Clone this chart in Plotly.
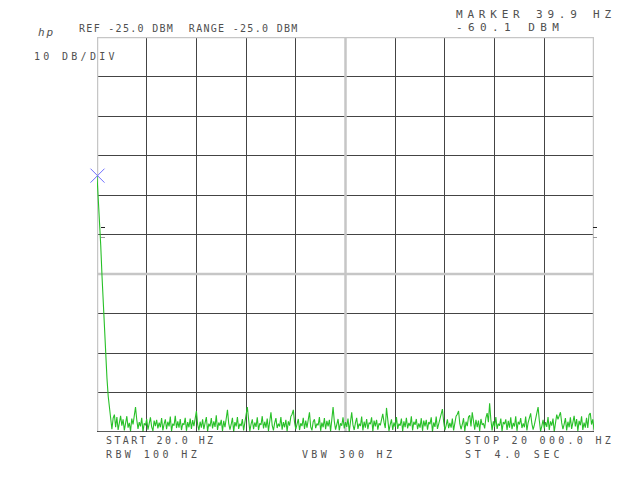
import numpy as np
import plotly.graph_objects as go

# ---- data ----
start_hz = 20.0
stop_hz = 20000.0
ref_dbm = -25.0
db_per_div = 10.0
n_div = 10

marker_hz = 39.9
marker_dbm = -60.1

level_dbm = [
    -60.1, -65.0, -71.3, -77.7, -85.3, -92.8, -99.2, -105.5, -111.3, -115.9, -119.4,
    -122.0, -124.3, -121.5, -120.6, -123.8, -121.2, -124.5, -122.6, -120.9, -123.4,
    -121.8, -124.6, -122.2, -121.0, -123.9, -122.7, -124.8, -121.6, -123.1, -120.8,
    -118.7, -121.9, -124.2, -122.5, -123.6, -121.4, -124.9, -122.8, -123.3, -121.7,
    -124.4, -122.9, -121.3, -123.7, -124.7, -122.1, -123.5, -121.9, -124.1, -122.6,
    -123.8, -121.5, -124.6, -123.0, -121.8, -124.3, -122.4, -123.6, -121.1, -124.8,
    -122.9, -123.4, -120.9, -124.0, -122.3, -123.9, -121.7, -124.5, -122.8, -123.2,
    -121.4, -124.7, -122.5, -123.8, -121.6, -124.2, -122.0, -123.5, -121.3, -119.7,
    -123.1, -124.6, -122.4, -123.9, -121.8, -124.3, -122.7, -121.2, -124.8, -122.9,
    -123.6, -121.5, -124.1, -122.3, -123.7, -120.8, -124.5, -122.6, -123.4, -121.9,
    -124.7, -122.2, -123.8, -121.6, -119.4, -122.8, -124.4, -123.1, -121.4, -124.9,
    -122.5, -123.6, -121.2, -124.2, -122.9, -123.5, -121.7, -124.6, -122.1, -120.6,
    -118.7, -122.4, -124.8, -123.0, -121.8, -124.3, -122.6, -123.7, -121.3, -124.5,
    -122.8, -123.2, -121.0, -124.1, -122.4, -123.9, -121.6, -124.7, -122.2, -120.0,
    -123.3, -124.6, -122.7, -121.5, -124.0, -122.9, -123.6, -121.2, -124.4, -122.5,
    -123.8, -121.9, -124.8, -122.3, -123.4, -121.1, -120.5, -119.4, -122.6, -124.3,
    -123.0, -121.7, -124.5, -122.8, -123.5, -121.4, -124.2, -122.1, -123.9, -121.6,
    -120.0, -123.7, -124.6, -122.4, -121.8, -124.0, -122.9, -123.3, -121.2, -124.7,
    -122.6, -123.8, -121.5, -124.3, -122.2, -123.6, -121.9, -124.8, -121.0, -118.7,
    -122.3, -124.4, -123.1, -121.7, -124.6, -122.8, -123.4, -121.3, -124.1, -122.5,
    -123.7, -121.6, -124.9, -121.8, -120.0, -123.2, -124.5, -122.7, -121.4, -124.2,
    -122.9, -123.5, -121.1, -124.6, -122.4, -123.9, -121.7, -124.3, -122.6, -123.0,
    -121.3, -124.8, -122.1, -123.6, -121.9, -124.4, -122.8, -123.3, -121.5, -120.4,
    -122.5, -124.0, -118.9, -122.2, -124.7, -123.1, -121.8, -124.5, -122.6, -123.7,
    -121.2, -124.2, -122.9, -123.4, -121.6, -124.8, -122.3, -123.8, -121.4, -124.1,
    -122.7, -123.5, -121.0, -124.6, -122.4, -123.2, -121.7, -124.3, -122.8, -123.9,
    -121.5, -124.7, -122.1, -123.6, -121.9, -124.4, -122.5, -123.0, -121.3, -124.9,
    -122.6, -123.7, -121.1, -124.2, -122.8, -121.4, -120.6, -119.2, -122.4, -124.5,
    -123.3, -121.8, -124.0, -122.7, -123.9, -121.6, -124.6, -122.2, -121.0, -120.5,
    -119.7, -122.9, -124.3, -123.1, -121.5, -124.8, -122.4, -123.5, -121.2, -120.8,
    -123.6, -120.0, -122.6, -124.4, -121.9, -123.8, -122.1, -124.7, -121.7, -123.2,
    -122.8, -124.1, -121.4, -120.2, -122.5, -117.7, -121.9, -124.6, -122.3, -123.7,
    -121.2, -124.2, -122.9, -123.4, -121.6, -124.8, -122.5, -123.0, -121.8, -124.5,
    -122.2, -123.9, -121.3, -124.3, -122.7, -123.6, -121.0, -124.7, -122.4, -123.1,
    -121.5, -124.0, -122.8, -123.8, -121.1, -124.6, -122.6, -121.4, -120.3, -122.9,
    -124.4, -123.2, -121.7, -120.4, -118.7, -122.1, -124.8, -123.5, -121.9, -124.1,
    -122.5, -123.7, -121.2, -124.5, -122.3, -123.4, -121.6, -124.9, -122.0, -120.6,
    -121.8, -120.8, -120.0, -122.7, -124.3, -123.0, -121.5, -124.6, -122.4, -123.8,
    -121.3, -124.2, -122.9, -120.9, -123.6, -121.7, -124.7, -122.2, -123.3, -121.0,
    -124.5, -122.6, -123.9, -121.4, -124.0, -120.7, -120.2, -123.1, -121.8, -124.4,
]

freq_hz = np.linspace(start_hz, stop_hz, len(level_dbm))

header_left = "REF -25.0 DBM  RANGE -25.0 DBM"
scale_text = "10 DB/DIV"
marker_line1 = "MARKER 39.9 HZ"
marker_line2 = "-60.1 DBM"
start_text = "START 20.0 HZ"
stop_text = "STOP 20 000.0 HZ"
rbw_text = "RBW 100 HZ"
vbw_text = "VBW 300 HZ"
st_text = "ST 4.0 SEC"

# ---- layout geometry (pixels) ----
W, H = 640, 480
L, R, T, B = 97, 594, 37, 432
bottom_dbm = ref_dbm - db_per_div * n_div


def px(x):
    return (x - L) / (R - L)


def py(y):
    return (B - y) / (B - T)


fig = go.Figure()
fig.add_trace(go.Scatter(
    x=freq_hz, y=level_dbm, mode="lines",
    line=dict(color="#28c028", width=1.1),
    hoverinfo="skip", showlegend=False,
))
fig.add_trace(go.Scatter(
    x=[marker_hz], y=[marker_dbm], mode="markers", cliponaxis=False,
    marker=dict(symbol="x-thin-open", size=14, color="#7070ff",
                line=dict(color="#7070ff", width=1)),
    hoverinfo="skip", showlegend=False,
))

x_step = (stop_hz - start_hz) / n_div
fig.update_xaxes(range=[start_hz, stop_hz], showgrid=True, gridcolor="#444444", gridwidth=1,
                 tick0=start_hz, dtick=x_step, showticklabels=False, ticks="",
                 zeroline=False, showline=False)
fig.update_yaxes(range=[bottom_dbm, ref_dbm], showgrid=True, gridcolor="#444444", gridwidth=1,
                 tick0=bottom_dbm, dtick=db_per_div, showticklabels=False, ticks="",
                 zeroline=False, showline=False)

shapes = []
light = "#c6c6c6"
for xv in [start_hz, start_hz + 5 * x_step, stop_hz]:
    shapes.append(dict(type="line", xref="x", yref="y", x0=xv, x1=xv, y0=bottom_dbm, y1=ref_dbm,
                       line=dict(color=light, width=2.5), layer="between"))
for yv in [ref_dbm, ref_dbm - 6 * db_per_div]:
    shapes.append(dict(type="line", xref="x", yref="y", x0=start_hz, x1=stop_hz, y0=yv, y1=yv,
                       line=dict(color=light, width=2.5), layer="between"))
shapes.append(dict(type="line", xref="x", yref="y", x0=start_hz, x1=stop_hz, y0=bottom_dbm, y1=bottom_dbm,
                   line=dict(color="#222222", width=1.5), layer="above"))
# small reference ticks on both sides
for x0p, x1p in [(101, 105), (593, 597)]:
    shapes.append(dict(type="line", xref="paper", yref="paper", x0=px(x0p), x1=px(x1p),
                       y0=py(227.5), y1=py(227.5), line=dict(color="#222222", width=1)))
    shapes.append(dict(type="line", xref="paper", yref="paper", x0=px(x0p), x1=px(x1p),
                       y0=py(237.5), y1=py(237.5), line=dict(color="#999999", width=1)))

FONT = "DejaVu Sans Mono"


def spaced(s, sp):
    return '<span style="letter-spacing:%.1fpx">%s</span>' % (sp, s)


annotations = []


def add_text(s, x, y, size, sp, italic=False):
    t = spaced(s, sp)
    if italic:
        t = "<i>" + t + "</i>"
    annotations.append(dict(text=t, xref="paper", yref="paper", x=px(x), y=py(y),
                            xanchor="left", yanchor="middle", showarrow=False,
                            font=dict(family=FONT, size=size, color="#505050")))


add_text("hp", 36, 33, 11, 2.0, italic=True)
add_text(header_left, 77, 28, 10, 1.3)
add_text(scale_text, 32, 56, 10, 3.3)
add_text(marker_line1, 454, 14.5, 11, 4.8)
add_text(marker_line2, 454, 27.5, 11, 5.4)
add_text(start_text, 104, 440, 10, 2.4)
add_text(stop_text, 463, 440, 10, 3.3)
add_text(rbw_text, 104, 454, 10, 3.4)
add_text(vbw_text, 300, 454, 10, 3.3)
add_text(st_text, 463, 454, 10, 3.8)

fig.update_layout(
    width=W, height=H,
    margin=dict(l=L, r=W - R, t=T, b=H - B),
    paper_bgcolor="white", plot_bgcolor="white",
    shapes=shapes, annotations=annotations,
)

fig.write_html("out.html", config={"displayModeBar": False, "staticPlot": True},
               post_script="document.body.style.margin='0';document.body.style.overflow='hidden';")
